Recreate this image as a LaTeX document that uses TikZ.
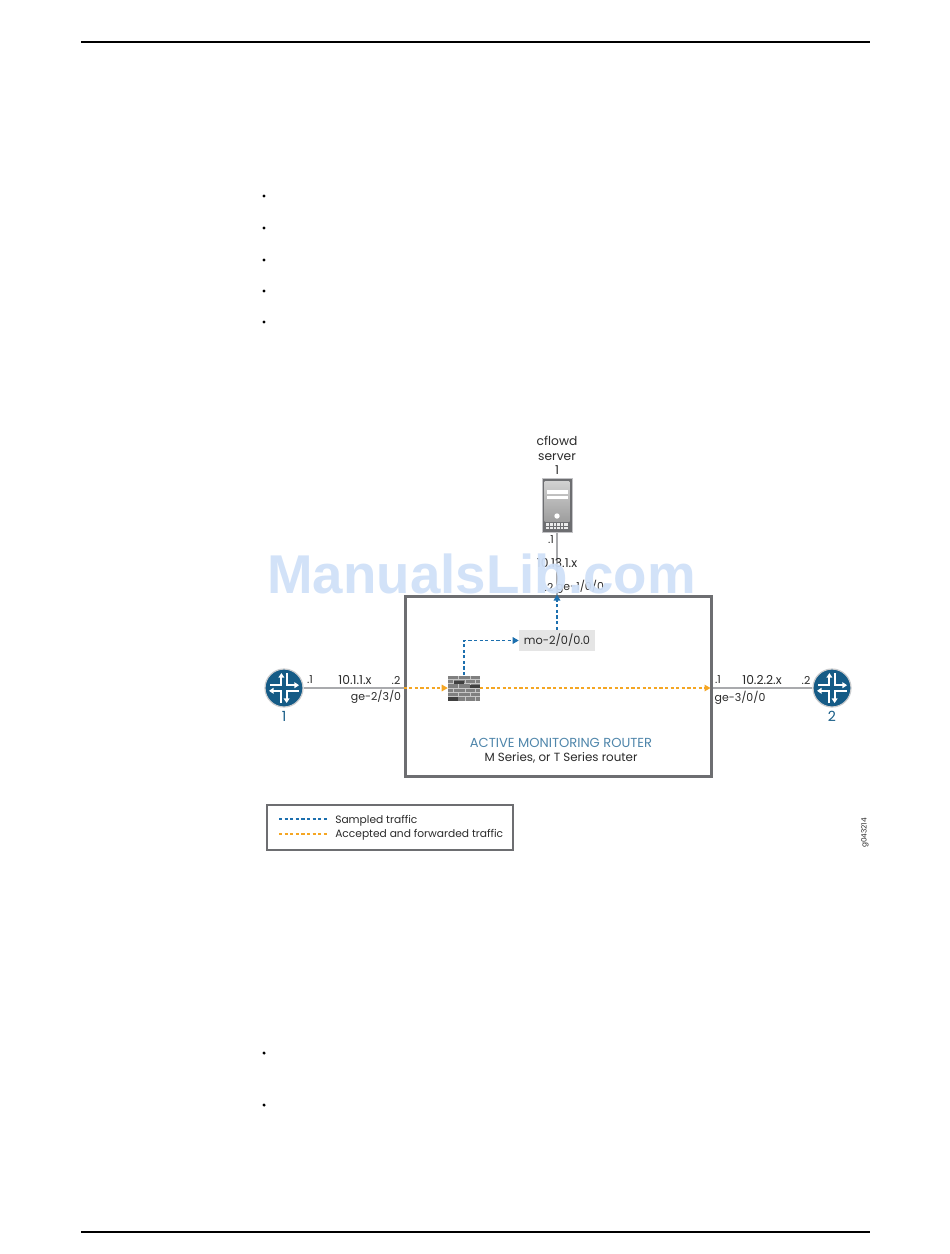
\documentclass[tikz,border=0pt]{standalone}
\usepackage{fontspec}
\setmainfont{Poppins}
\newfontfamily\wmfont{Liberation Sans}
\usetikzlibrary{arrows.meta,calc}
\definecolor{jblue}{HTML}{155B86}
\definecolor{jtitle}{HTML}{4F86AB}
\definecolor{boxgray}{HTML}{6D6E71}
\definecolor{linkgray}{HTML}{A9AAAD}
\definecolor{sampled}{HTML}{1C6FAE}
\definecolor{accepted}{HTML}{F5A623}
\definecolor{wm}{HTML}{CFE0F8}
\definecolor{txt}{HTML}{2B2B2B}
\tikzset{
  x=0.75pt,y=-0.75pt,
  lab/.style={inner sep=0pt,font=\fontsize{8.2}{10}\selectfont,text=txt},
  lablg/.style={inner sep=0pt,font=\fontsize{9.2}{11}\selectfont,text=txt},
  rtrnum/.style={inner sep=0pt,font=\fontsize{10.5}{12}\selectfont,text=jblue},
  rtr/.style={circle,fill=jblue,draw=linkgray!60,line width=0.9pt,minimum size=28.5pt,inner sep=0pt},
  link/.style={draw=linkgray,line width=1.1pt},
  flow/.style={line width=1pt,dash pattern=on 2.4pt off 1.8pt},
  sampledflow/.style={flow,draw=sampled,-{Triangle[length=4.5pt,width=4.9pt,fill=sampled]}},
  acceptedflow/.style={flow,draw=accepted,-{Triangle[length=4.5pt,width=4.9pt,fill=accepted]}},
  legendline/.style={line width=1pt,dash pattern=on 2.4pt off 1.8pt},
  pagerule/.style={draw=black,line width=1.2pt},
  bulletdot/.style={circle,fill=black,inner sep=0pt,minimum size=2.6pt},
}
\newcommand{\routerglyph}[1]{%
  \begin{scope}[shift={(#1)},white,line width=1.5pt,
     rtip/.style={-{Triangle[length=3.4pt,width=4.3pt]}}]
    \draw[rtip] (-14,-2.8) -- (-2.6,-2.8) -- (-2.6,-15);
    \draw[rtip] (2.6,-15) -- (2.6,-2.8) -- (15,-2.8);
    \draw[rtip] (14.5,2.8) -- (2.6,2.8) -- (2.6,15);
    \draw[rtip] (-2.6,15) -- (-2.6,2.8) -- (-15,2.8);
  \end{scope}}
\begin{document}
\begin{tikzpicture}
\useasboundingbox (0,0) rectangle (950,1254);
\fill[white] (0,0) rectangle (950,1254);
% page furniture
\coordinate (ruleAL) at (81,42); \coordinate (ruleAR) at (870,42);
\coordinate (ruleBL) at (81,1232); \coordinate (ruleBR) at (870,1232);
\draw[pagerule] (ruleAL) -- (ruleAR);
\draw[pagerule] (ruleBL) -- (ruleBR);
\foreach \i/\yy in {a/196,b/228,c/260,d/291,e/322,f/1053,g/1105}
  \node[bulletdot] (bul\i) at (264,\yy) {};
% server
\node[inner sep=0pt,minimum width=22.5pt,minimum height=40.5pt,fill=boxgray,draw=linkgray!70,line width=.75pt] (srv) at (557,505) {};
\fill[top color=white!82!black,bottom color=white!62!black] (544.5,481) rectangle (569.5,521);
\fill[white] (546.5,490) rectangle (567.5,494);
\fill[white] (546.5,495.5) rectangle (567.5,499);
\fill[white] (557,516) circle (2.7);
\fill[white!92!black] (546,523) rectangle (568,529);
\foreach \xx in {549.5,553,556.5,560,563.5} \draw[boxgray,line width=.7pt] (\xx,523) -- (\xx,529);
\draw[boxgray,line width=.6pt] (546,526) -- (568,526);
\node[lablg] (cf1) at (557,441) {cflowd};
\node[lablg] (cf2) at (557,457) {server};
\node[lablg] (cf3) at (557,470) {1};
% active monitoring box
\node[draw=boxgray,line width=2.25pt,minimum width=229.5pt,minimum height=135pt,inner sep=0pt] (box) at (558,686) {};
\node[inner sep=0pt,fill=white!90!black,minimum width=57pt,minimum height=15.75pt,font=\fontsize{8.5}{11}\selectfont,text=txt] (mo) at (557,640.5) {mo-2/0/0.0};
% firewall
\node[inner sep=0pt,minimum width=24pt,minimum height=18.75pt,fill=white!50!black] (fw) at (464,688) {};
\begin{scope}[shift={(448,675.5)}]
  \foreach \yy in {4.2,8.4,12.6,16.8,21} \fill[white!78!black] (0,\yy-.5) rectangle (32,\yy+.5);
  \foreach \xx/\yy in {10/0,22/0,5/4,17/4,27/4,10/8,22/8,5/12.5,17/12.5,27/12.5,10/17,22/17,5/21,17/21,27/21}
     \fill[white!78!black] (\xx-.5,\yy) rectangle (\xx+.5,\yy+4.2);
  \fill[white!25!black] (6,5) rectangle (16,8);
  \fill[white!25!black] (22,9) rectangle (32,12.2);
  \fill[white!25!black] (0,21.5) rectangle (10,25);
\end{scope}
% routers
\node[rtr] (r1) at (284,688) {};
\node[rtr] (r2) at (832,688) {};
\routerglyph{284,688}
\routerglyph{832,688}
\node[rtrnum] (r1n) at (284,716) {1};
\node[rtrnum] (r2n) at (832,716) {2};
% links
\draw[link] (r1) -- (r1 -| box.west);
\draw[link] (r2 -| box.east) -- (r2);
\draw[link] (srv) -- (box.north -| srv);
% labels on links
\node[lab] (l1) at (310,680) {.1};
\node[lablg] (l2) at (355,680) {10.1.1.x};
\node[lab] (l3) at (396,680) {.2};
\node[lab] (l4) at (376,696.5) {ge-2/3/0};
\node[lab] (l5) at (718,680) {.1};
\node[lablg] (l6) at (762,680) {10.2.2.x};
\node[lab] (l7) at (806,680) {.2};
\node[lab] (l8) at (740,697.5) {ge-3/0/0};
\node[lab] (l9) at (551,540) {.1};
\node[lablg] (l10) at (557,563) {10.13.1.x};
\node[lab] (l11) at (549,587) {.2};
\node[lab] (l12) at (580,587) {ge-1/0/0};
% flows
\draw[acceptedflow] (r1 -| box.west) -- (fw.west);
\draw[acceptedflow] (fw.east) -- ([xshift=-1.5pt]r2 -| box.east);
\coordinate (bend) at (fw.north |- mo.west);
\draw[sampledflow] (fw.north) -- (bend) -- (mo.west);
\draw[sampledflow] (mo.north) -- (mo.north |- box.north);
% box caption
\node[inner sep=0pt,font=\fontsize{9.8}{11}\selectfont,text=jtitle] (cap1) at (561,743) {ACTIVE MONITORING ROUTER};
\node[inner sep=0pt,font=\fontsize{8.9}{11}\selectfont,text=txt] (cap2) at (561,757.5) {M Series, or T Series router};
% legend
\node[draw=boxgray,line width=.8pt,minimum width=184.5pt,minimum height=33.75pt,inner sep=0pt] (legend) at (390,827.5) {};
\coordinate (ls1) at (279,819); \coordinate (le1) at (327,819);
\coordinate (ls2) at (279,834); \coordinate (le2) at (327,834);
\draw[legendline,sampled] (ls1) -- (le1);
\draw[legendline,accepted] (ls2) -- (le2);
\node[lab,anchor=west,font=\fontsize{8}{10}\selectfont] (lg1) at (335,821) {Sampled traffic};
\node[lab,anchor=west,font=\fontsize{8}{10}\selectfont] (lg2) at (335,835) {Accepted and forwarded traffic};
\node[inner sep=0pt,rotate=90,font=\fontsize{5.5}{6}\selectfont,text=txt] (gid) at (865,833) {g043214};
% watermark
\node[inner sep=0pt,anchor=base,font=\fontsize{41}{46}\selectfont\wmfont\bfseries,text=wm,opacity=.93] (mark) at (481.5,593.5) {ManualsLib.com};
\end{tikzpicture}
\end{document}
